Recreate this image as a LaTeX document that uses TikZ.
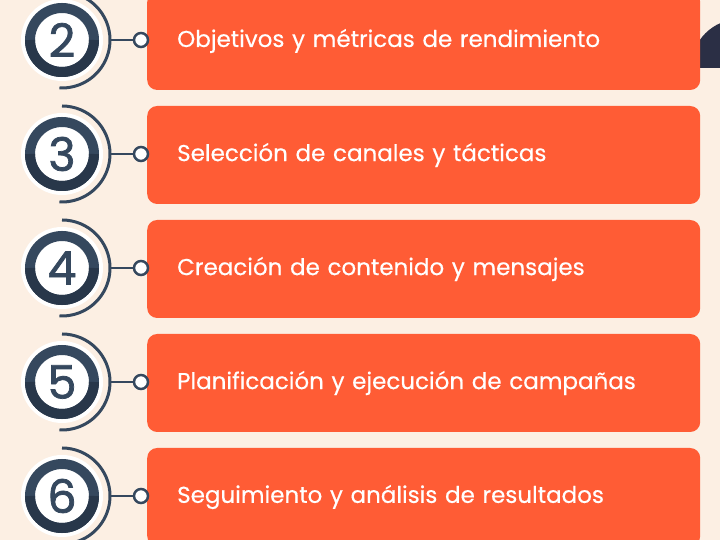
\documentclass[tikz,border=0pt]{standalone}
\usepackage{fontspec}
\setmainfont{Poppins}
\usepackage{xcolor}
\usepackage{tikz}
\definecolor{cream}{HTML}{FCEFE3}
\definecolor{hsorange}{HTML}{FF5C35}
\definecolor{navy}{HTML}{35485E}
\definecolor{deepnavy}{HTML}{28374A}
\definecolor{darknavy}{HTML}{2B2F45}
\tikzstyle{numcircle}=[circle,draw=navy,line width=10pt,fill=white,minimum size=64pt,inner sep=0pt,text=navy,font=\fontsize{46}{46}\selectfont\addfontfeatures{FakeBold=1.6},preaction={draw=white,line width=18pt}]
\tikzstyle{shade}=[draw=deepnavy,line width=10pt]
\tikzstyle{knob}=[circle,draw=navy,line width=2.5pt,fill=white,minimum size=14pt,inner sep=0pt]
\tikzstyle{stepbox}=[rectangle,rounded corners=10pt,fill=hsorange,text=white,anchor=west,minimum height=98pt,text width=493pt,inner xsep=30pt,align=left,font=\fontsize{23}{27}\selectfont\addfontfeatures{FakeBold=0.4}]
\tikzstyle{ring}=[draw=navy,line width=3pt]
\tikzstyle{link}=[draw=navy,line width=2.5pt,shorten <=48pt]

\begin{document}
\begin{tikzpicture}[x=1pt,y=1pt]
	\useasboundingbox (0,0) rectangle (720,540);
	\fill[cream] (0,0) rectangle (720,540);
	\fill[darknavy] (691,472) arc[start angle=180,end angle=0,radius=49] -- cycle;

	\node[stepbox] (s2) at (147,499) {Objetivos y métricas de rendimiento};
	\node[numcircle] (n2) at (62,500) {2};
	\draw[shade] (n2.center) ++(180:32) arc[start angle=180,end angle=360,radius=32];
	\node[knob] (k2) at (141,500) {};
	\draw[ring] (n2.center) ++(90:48) arc[start angle=90,end angle=-93,radius=48];
	\draw[link] (n2.center) -- (k2);

	\node[stepbox] (s3) at (147,385) {Selección de canales y tácticas};
	\node[numcircle] (n3) at (62,386) {3};
	\draw[shade] (n3.center) ++(180:32) arc[start angle=180,end angle=360,radius=32];
	\node[knob] (k3) at (141,386) {};
	\draw[ring] (n3.center) ++(90:48) arc[start angle=90,end angle=-93,radius=48];
	\draw[link] (n3.center) -- (k3);

	\node[stepbox] (s4) at (147,271) {Creación de contenido y mensajes};
	\node[numcircle] (n4) at (62,272) {4};
	\draw[shade] (n4.center) ++(180:32) arc[start angle=180,end angle=360,radius=32];
	\node[knob] (k4) at (141,272) {};
	\draw[ring] (n4.center) ++(90:48) arc[start angle=90,end angle=-93,radius=48];
	\draw[link] (n4.center) -- (k4);

	\node[stepbox] (s5) at (147,157) {Planificación y ejecución de campañas};
	\node[numcircle] (n5) at (62,158) {5};
	\draw[shade] (n5.center) ++(180:32) arc[start angle=180,end angle=360,radius=32];
	\node[knob] (k5) at (141,158) {};
	\draw[ring] (n5.center) ++(90:48) arc[start angle=90,end angle=-93,radius=48];
	\draw[link] (n5.center) -- (k5);

	\node[stepbox] (s6) at (147,43) {Seguimiento y análisis de resultados};
	\node[numcircle] (n6) at (62,44) {6};
	\draw[shade] (n6.center) ++(180:32) arc[start angle=180,end angle=360,radius=32];
	\node[knob] (k6) at (141,44) {};
	\draw[ring] (n6.center) ++(90:48) arc[start angle=90,end angle=-93,radius=48];
	\draw[link] (n6.center) -- (k6);
\end{tikzpicture}
\end{document}
